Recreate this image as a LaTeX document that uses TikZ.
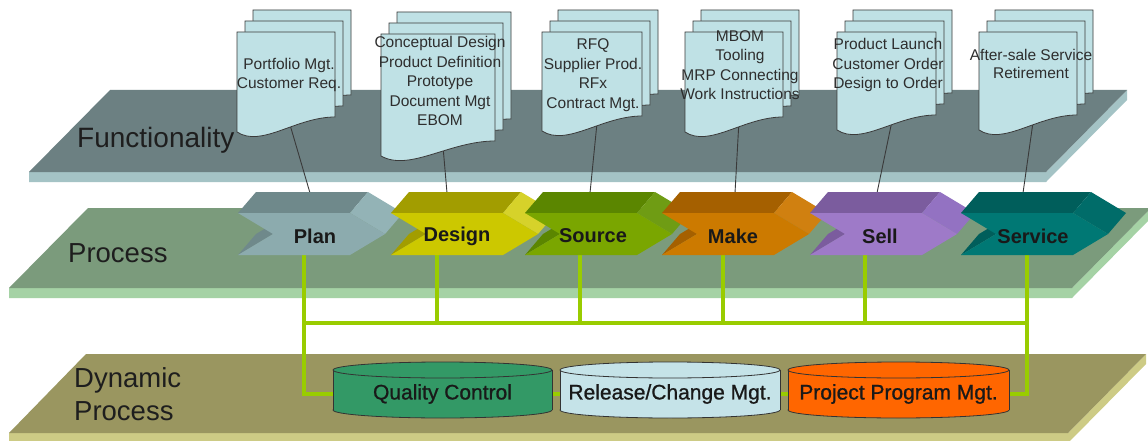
\documentclass[tikz,border=0pt]{standalone}
\usepackage{fontspec}
\setmainfont{Liberation Sans}
\newfontfamily\semibfont[FakeBold=0.9]{Liberation Sans}
\pgfdeclarelayer{planes}
\pgfdeclarelayer{wires}
\pgfsetlayers{planes,wires,main}
\definecolor{funtop}{HTML}{6C8082}
\definecolor{funedge}{HTML}{A4C3C5}
\definecolor{proctop}{HTML}{7B9B7C}
\definecolor{procedge}{HTML}{A5D2A5}
\definecolor{dyntop}{HTML}{9A9660}
\definecolor{dynedge}{HTML}{CDCB85}
\definecolor{docfill}{HTML}{BFE1E5}
\definecolor{docedge}{HTML}{3A3A3A}
\definecolor{doctxt}{HTML}{2E2E2E}
\definecolor{lbltxt}{HTML}{1E1E1E}
\definecolor{buscol}{HTML}{99CC00}
\definecolor{cylline}{HTML}{333333}
\definecolor{qcfill}{HTML}{339966}
\definecolor{rcfill}{HTML}{C5E3E8}
\definecolor{ppfill}{HTML}{FF6600}
\definecolor{planF}{HTML}{8CABAE}\definecolor{planT}{HTML}{6F898B}\definecolor{planR}{HTML}{93B3B6}
\definecolor{desF}{HTML}{CCC800}\definecolor{desT}{HTML}{A29D00}\definecolor{desR}{HTML}{D6D22A}
\definecolor{srcF}{HTML}{7AA600}\definecolor{srcT}{HTML}{5B8600}\definecolor{srcR}{HTML}{6F9C14}
\definecolor{makF}{HTML}{CC7A00}\definecolor{makT}{HTML}{A56000}\definecolor{makR}{HTML}{D08010}
\definecolor{selF}{HTML}{9E7AC8}\definecolor{selT}{HTML}{7B5C9E}\definecolor{selR}{HTML}{9372C2}
\definecolor{srvF}{HTML}{007874}\definecolor{srvT}{HTML}{005E5B}\definecolor{srvR}{HTML}{006C69}

% document stack: #1 name, #2 x0, #3 top, #4 width, #5 height
\newcommand\mkdoc[5]{%
  \foreach \k in {2,1}{%
    \filldraw[docpage] (#2+8*\k,#3-11*\k) -- (#2+8*\k+#4,#3-11*\k) -- (#2+8*\k+#4,#3-11*\k+#5-15)
      .. controls (#2+8*\k+0.6*#4,#3-11*\k+#5-15) and (#2+8*\k+0.25*#4,#3-11*\k+#5+16) .. (#2+8*\k,#3-11*\k+#5) -- cycle;}
  \filldraw[docpage] (#2,#3) -- (#2+#4,#3) -- (#2+#4,#3+#5-15)
      .. controls (#2+0.6*#4,#3+#5-15) and (#2+0.25*#4,#3+#5+16) .. coordinate[pos=0.4] (#1b) (#2,#3+#5) -- cycle;
}
% 3D chevron: #1 name, #2 left, #3 front, #4 top, #5 right, #6 label, #7 text x, #8 top wire x, #9 bottom wire x
\newcommand\mkchev[9]{%
  \fill[#4] (#2,213) -- (#2+112,213) -- (#2+130,192) -- (#2+18,192) -- cycle;
  \fill[#5] (#2+112,213) -- (#2+147,234) -- (#2+165,213) -- (#2+130,192) -- cycle;
  \fill[#4] (#2,255) -- (#2+35,234) -- (#2+53,213) -- (#2+18,234) -- cycle;
  \fill[#3] (#2,213) -- (#2+112,213) -- (#2+147,234) -- (#2+112,255) -- (#2,255) -- (#2+35,234) -- cycle;
  \node[chevtext] (#1) at (#7,236) {#6};
  \coordinate (#1top) at (#8,193);
  \coordinate (#1bot) at (#9,254);
}
% cylinder: #1 name, #2 center x, #3 half width, #4 colour, #5 text
\newcommand\mkcyl[5]{%
  \filldraw[fill=#4, cyledge] (#2,410) ellipse [x radius=#3pt, y radius=8pt];
  \fill[#4] (#2-#3,370) rectangle (#2+#3,410);
  \draw[cyledge] (#2-#3,370) -- (#2-#3,410) (#2+#3,370) -- (#2+#3,410);
  \filldraw[fill=#4, cyledge] (#2,370) ellipse [x radius=#3pt, y radius=8pt];
  \node[cyltext, minimum width=2*#3pt] (#1) at (#2,394) {#5};
}

\tikzset{
  docpage/.style={fill=docfill, draw=docedge, line width=0.8pt},
  doctext/.style={align=center, inner sep=0pt, text=doctxt, font=\fontsize{15.5}{19.5}\selectfont},
  chevtext/.style={inner sep=0pt, text=black!90, font=\fontsize{20}{24}\selectfont\bfseries},
  cyltext/.style={inner sep=0pt, text=black!90, font=\semibfont\fontsize{21}{26}\selectfont, minimum height=30pt},
  planelabel/.style={inner sep=0pt, text=lbltxt, anchor=base west},
  bus/.style={draw=buscol, line width=3.5pt},
  docwire/.style={draw=docedge, line width=0.9pt},
  cyledge/.style={draw=cylline, line width=0.8pt},
}

\begin{document}
\begin{tikzpicture}[x=1pt,y=-1pt]
\useasboundingbox (0,0) rectangle (1148,441);

\begin{pgfonlayer}{planes}
  \fill[white] (0,0) rectangle (1148,441);
  % Functionality plane
  \fill[funedge] (29,172) -- (1046,172) -- (1127,90) -- (1127,100) -- (1046,182) -- (29,182) -- cycle;
  \fill[funtop] (110,90) -- (1127,90) -- (1046,172) -- (29,172) -- cycle;
  % Process plane
  \fill[procedge] (9,288) -- (1072,288) -- (1151,208) -- (1151,218) -- (1072,298) -- (9,298) -- cycle;
  \fill[proctop] (88,208) -- (1151,208) -- (1072,288) -- (9,288) -- cycle;
  % Dynamic process plane
  \fill[dynedge] (9,433) -- (1068,433) -- (1146,354) -- (1146,364) -- (1068,443) -- (9,443) -- cycle;
  \fill[dyntop] (86,354) -- (1146,354) -- (1068,433) -- (9,433) -- cycle;
\end{pgfonlayer}

% plane labels
\node[planelabel, font=\fontsize{28}{32}\selectfont] (funclbl) at (77,147) {Functionality};
\node[planelabel, font=\fontsize{27.5}{32}\selectfont] (proclbl) at (68,262) {Process};
\node[planelabel, font=\fontsize{27.5}{32}\selectfont] (dynlbl) at (74,387) {Dynamic};
\node[planelabel, font=\fontsize{27.5}{32}\selectfont] (dynlblb) at (74,420) {Process};

% documents
\mkdoc{plandoc}{237}{32}{98}{100}
\mkdoc{desdoc}{381}{34}{114}{122}
\mkdoc{srcdoc}{542}{32}{100}{99}
\mkdoc{makdoc}{685}{32}{98}{100}
\mkdoc{seldoc}{837}{32}{99}{98}
\mkdoc{srvdoc}{979}{32}{98}{98}

\node[doctext] (plantxt) at (289,75) {Portfolio Mgt.\\Customer Req.};
\node[doctext, text depth=0pt] (destxt) at (440,81) {Conceptual Design\\Product Definition\\Prototype\\Document Mgt\\EBOM};
\node[doctext] (srctxt) at (593,75) {RFQ\\Supplier Prod.\\RFx\\Contract Mgt.};
\node[doctext] (maktxt) at (740,65) {MBOM\\Tooling\\MRP Connecting\\Work Instructions};
\node[doctext] (seltxt) at (888,65) {Product Launch\\Customer Order\\Design to Order};
\node[doctext, font=\fontsize{15.5}{18.5}\selectfont] (srvtxt) at (1031,64) {After-sale Service\\Retirement};

% chevrons
\mkchev{plan}{238}{planF}{planT}{planR}{Plan}{315}{310}{304}
\mkchev{design}{391}{desF}{desT}{desR}{Design}{457}{447}{437}
\mkchev{source}{525}{srcF}{srcT}{srcR}{Source}{593}{590}{580}
\mkchev{make}{662}{makF}{makT}{makR}{Make}{733}{735}{723}
\mkchev{sell}{810}{selF}{selT}{selR}{Sell}{880}{877}{865}
\mkchev{service}{961}{srvF}{srvT}{srvR}{Service}{1033}{1023}{1027}

% cylinders
\mkcyl{qc}{442.5}{109.5}{qcfill}{Quality Control}
\mkcyl{rcm}{670}{110}{rcfill}{Release/Change Mgt.}
\mkcyl{ppm}{898.5}{110.5}{ppfill}{Project Program Mgt.}

\coordinate (busL) at (304,323);
\coordinate (busR) at (1027,323);

\begin{pgfonlayer}{wires}
  \draw[docwire] (plandocb) -- (plantop);
  \draw[docwire] (desdocb) -- (designtop);
  \draw[docwire] (srcdocb) -- (sourcetop);
  \draw[docwire] (makdocb) -- (maketop);
  \draw[docwire] (seldocb) -- (selltop);
  \draw[docwire] (srvdocb) -- (servicetop);
  \draw[bus] (planbot) |- (qc.west);
  \draw[bus] (servicebot) |- (ppm.east);
  \draw[bus] (busL) -- (busR);
  \foreach \n in {design,source,make,sell}{\draw[bus] (\n bot) -- (\n bot |- busL);}
  \draw[bus] (qc.east) -- (rcm.west);
  \draw[bus] (rcm.east) -- (ppm.west);
\end{pgfonlayer}
\end{tikzpicture}
\end{document}
